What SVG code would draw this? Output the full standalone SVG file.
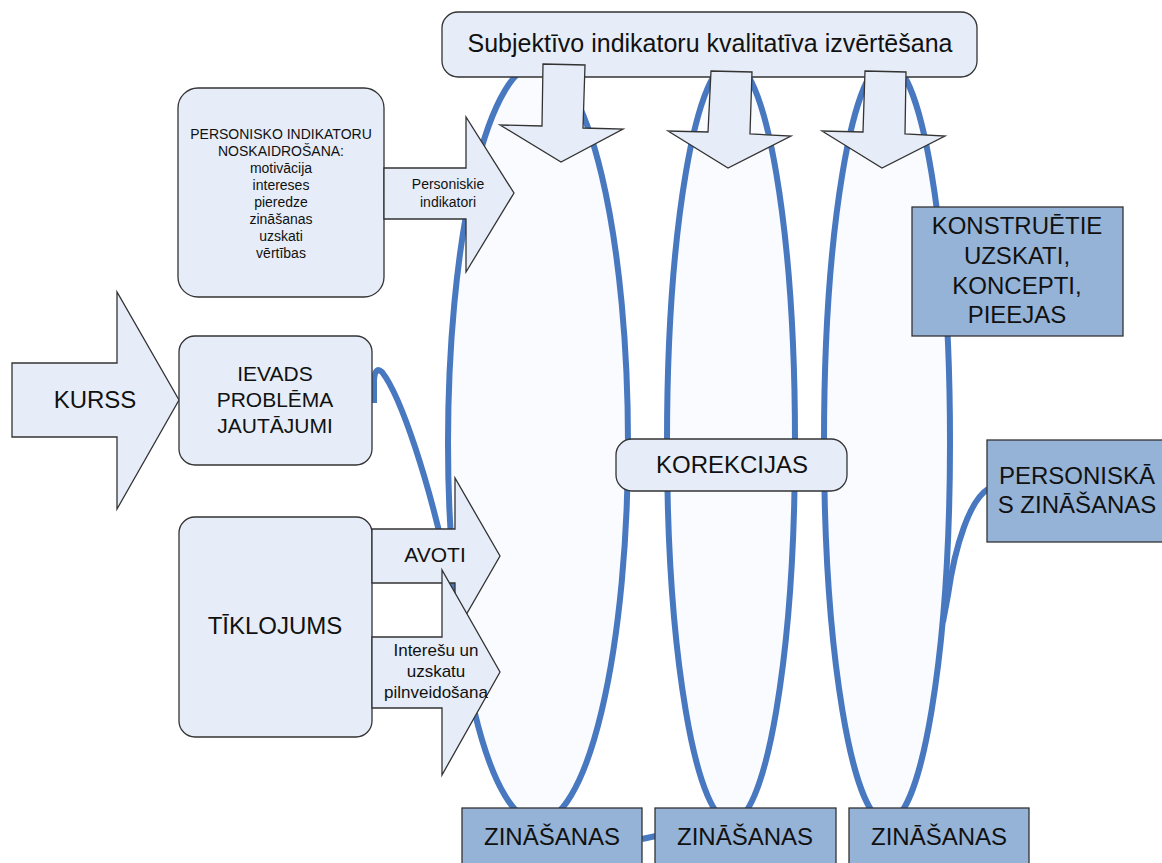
<svg xmlns="http://www.w3.org/2000/svg" width="1162" height="863" viewBox="0 0 1162 863">
<style>
text{font-family:"Liberation Sans",Arial,sans-serif;fill:#111;text-anchor:middle}
.lt{fill:#e6edf8;stroke:#333;stroke-width:1.3}
.dk{fill:#95b3d7;stroke:#333;stroke-width:1.3}
.ell{fill:#f9fbfe;stroke:#4878c0;stroke-width:6}
.con{fill:none;stroke:#4878c0;stroke-width:6}
</style>
<rect width="1162" height="863" fill="#fff"/>
<g id="ellipses">
<ellipse class="ell" cx="538" cy="443" rx="90" ry="379"/>
<ellipse class="ell" cx="731" cy="442" rx="64" ry="380"/>
<ellipse class="ell" cx="887" cy="442" rx="63" ry="380"/>
</g>
<g id="connectors">
<path class="con" d="M374 403 L374 380 Q375 366 382 372 C400 395 430 480 452 590"/>
<path class="con" d="M988 489 C970 500 955 545 948 595 L943 622"/>
<path class="con" d="M642 839 L656 836"/>
</g>
<g id="title">
<rect class="lt" x="442" y="12" width="535" height="65" rx="16"/>
<text x="710" y="52" font-size="25">Subjektīvo indikatoru kvalitatīva izvērtēšana</text>
</g>
<g id="down-arrow-1"><polygon class="lt" points="543,64 585,65 583,128 623,129 561,162 500,125 542,126"/></g>
<g id="down-arrow-2"><polygon class="lt" points="711,71 752,72 750,134 791,136 728,168 668,131 708,132"/></g>
<g id="down-arrow-3"><polygon class="lt" points="865,71 906,72 905,134 945,136 882,168 822,131 863,132"/></g>
<g id="personisko">
<rect class="lt" x="178" y="88" width="206" height="209" rx="20"/>
<g font-size="14">
<text x="281" y="139">PERSONISKO INDIKATORU</text>
<text x="281" y="156">NOSKAIDROŠANA:</text>
<text x="281" y="173">motivācija</text>
<text x="281" y="190">intereses</text>
<text x="281" y="207">pieredze</text>
<text x="281" y="224">zināšanas</text>
<text x="281" y="241">uzskati</text>
<text x="281" y="258">vērtības</text>
</g>
</g>
<g id="personiskie-arrow">
<polygon class="lt" points="384,168 466,168 466,117 514,193 466,272 466,219 384,219"/>
<text x="448" y="189" font-size="14">Personiskie</text>
<text x="448" y="207" font-size="14">indikatori</text>
</g>
<g id="kurss">
<polygon class="lt" points="12,363 117,363 117,292 179,400 117,509 117,437 12,437"/>
<text x="95" y="408" font-size="24">KURSS</text>
</g>
<g id="ievads">
<rect class="lt" x="179" y="336" width="193" height="129" rx="16"/>
<text x="275" y="381" font-size="21">IEVADS</text>
<text x="275" y="407" font-size="21">PROBLĒMA</text>
<text x="275" y="433" font-size="21">JAUTĀJUMI</text>
</g>
<g id="tiklojums">
<rect class="lt" x="179" y="517" width="193" height="220" rx="16"/>
<text x="275" y="634" font-size="24">TĪKLOJUMS</text>
</g>
<g id="avoti-arrow">
<polygon class="lt" points="372,529 455,529 455,478 500,556 455,634 455,583 372,583"/>
<text x="435" y="562" font-size="21">AVOTI</text>
</g>
<g id="intereshu-arrow">
<polygon class="lt" points="372,637 442,637 442,570 500,672 442,775 442,708 372,708"/>
<text x="436" y="656" font-size="17">Interešu un</text>
<text x="436" y="677" font-size="17">uzskatu</text>
<text x="436" y="698" font-size="17">pilnveidošana</text>
</g>
<g id="korekcijas">
<rect class="lt" x="616" y="439" width="231" height="52" rx="16"/>
<text x="732" y="473" font-size="24">KOREKCIJAS</text>
</g>
<g id="konstruetie">
<rect class="dk" x="912" y="207" width="211" height="129"/>
<text x="1017" y="234" font-size="24">KONSTRUĒTIE</text>
<text x="1017" y="264" font-size="24">UZSKATI,</text>
<text x="1017" y="294" font-size="24">KONCEPTI,</text>
<text x="1017" y="323" font-size="24">PIEEJAS</text>
</g>
<g id="personiskas">
<rect class="dk" x="987" y="440" width="180" height="102"/>
<text x="1077" y="484" font-size="24">PERSONISKĀ</text>
<text x="1077" y="513" font-size="24">S ZINĀŠANAS</text>
</g>
<g id="zinasanas-1">
<rect class="dk" x="462" y="808" width="180" height="62"/>
<text x="552" y="845" font-size="24">ZINĀŠANAS</text>
</g>
<g id="zinasanas-2">
<rect class="dk" x="655" y="808" width="181" height="62"/>
<text x="745" y="845" font-size="24">ZINĀŠANAS</text>
</g>
<g id="zinasanas-3">
<rect class="dk" x="849" y="808" width="180" height="62"/>
<text x="939" y="845" font-size="24">ZINĀŠANAS</text>
</g>
</svg>
